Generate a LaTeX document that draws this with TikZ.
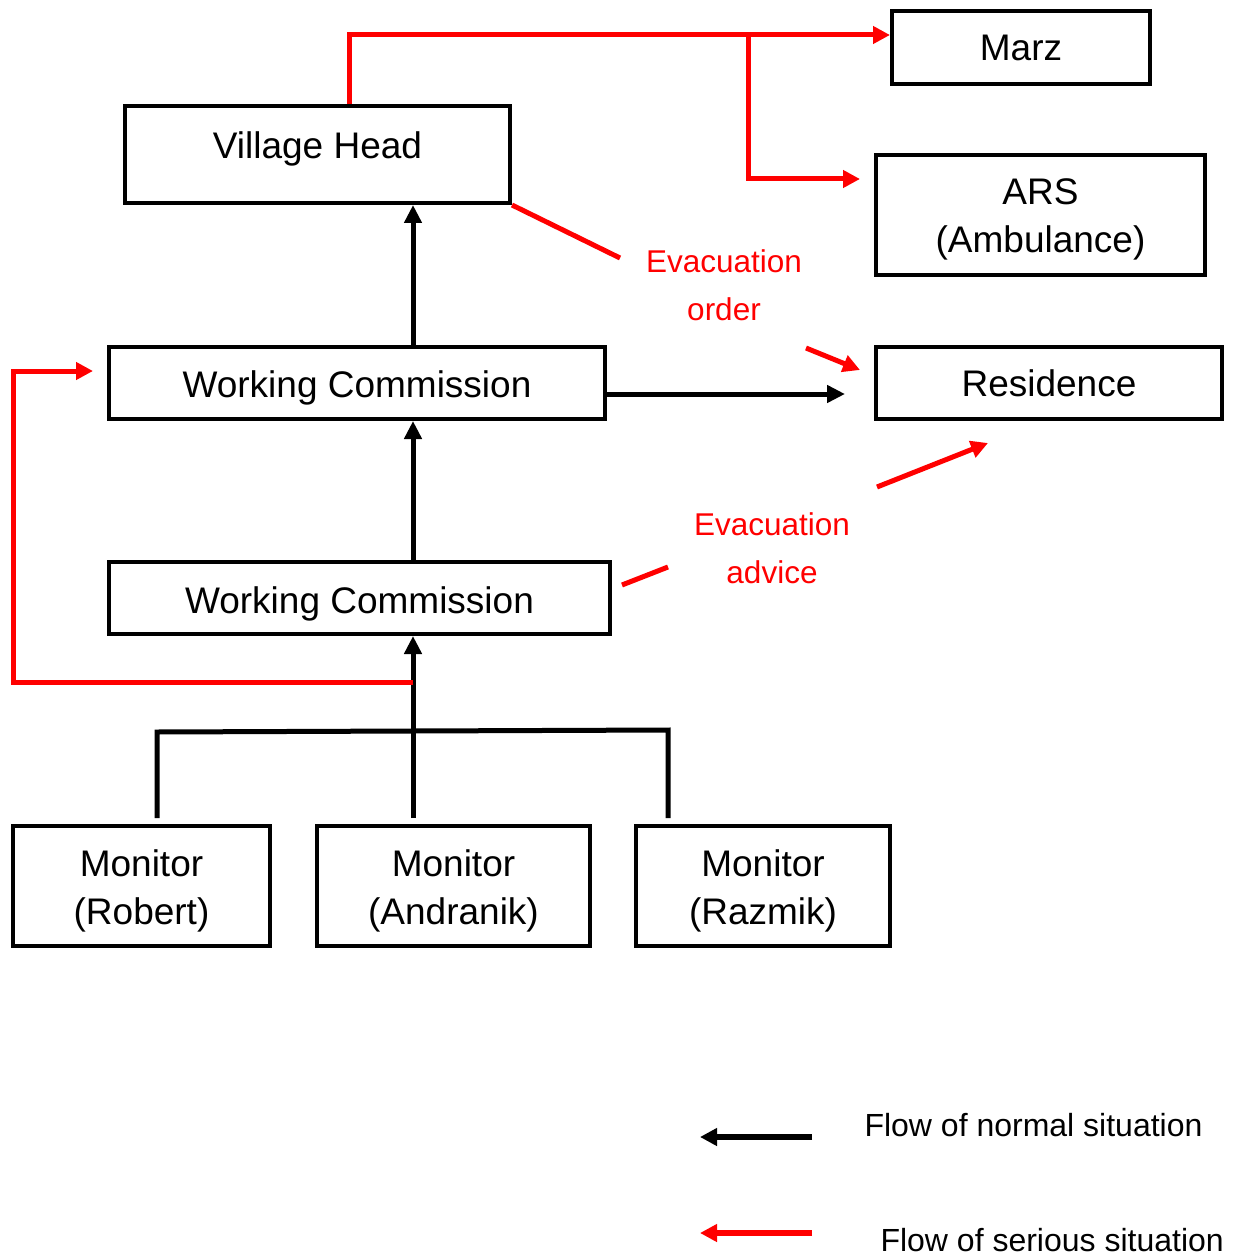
\documentclass[tikz,border=0pt]{standalone}
\usepackage{fontspec}
\setmainfont{Liberation Sans}
\usetikzlibrary{arrows.meta}
\newcommand{\dnshift}[2]{\raisebox{-#1}[\height][\depth]{#2}}
\begin{document}
\begin{tikzpicture}[x=1pt,y=-1pt,
  box/.style={draw=black, line width=4pt, rectangle, inner sep=0pt, align=center, font=\fontsize{37}{48}\selectfont},
  blkline/.style={draw=black, line width=5pt},
  blkarrow/.style={blkline, -{Triangle[length=18pt,width=17pt]}},
  redline/.style={draw=red, line width=5pt},
  redarrow/.style={redline, -{Triangle[length=17pt,width=17pt]}},
  lbl/.style={text=red, align=center, font=\fontsize{31.5}{48}\selectfont},
  legtext/.style={anchor=base west, font=\fontsize{32}{38}\selectfont}]
\useasboundingbox (0,0) rectangle (1234,1257);

% boxes
\node[box, minimum width=258pt, minimum height=73pt] (marz) at (1021,47.5) {Marz};
\node[box, minimum width=385pt, minimum height=97pt] (vh) at (317.5,154.5) {\dnshift{-6pt}{Village Head}};
\node[box, minimum width=329pt, minimum height=120pt] (ars) at (1040.5,215) {\dnshift{4.5pt}{ARS}\\\dnshift{4.5pt}{(Ambulance)}};
\node[box, minimum width=346pt, minimum height=72pt] (res) at (1049,383) {Residence};
\node[box, minimum width=496pt, minimum height=72pt] (wc1) at (357,383) {\dnshift{4.5pt}{Working Commission}};
\node[box, minimum width=501pt, minimum height=72pt] (wc2) at (359.5,598) {\dnshift{5.5pt}{Working Commission}};
\node[box, minimum width=257pt, minimum height=120pt] (rob) at (141.5,886) {\dnshift{4.5pt}{Monitor}\\\dnshift{4.5pt}{(Robert)}};
\node[box, minimum width=273pt, minimum height=120pt] (and) at (453.5,886) {\dnshift{4.5pt}{Monitor}\\\dnshift{4.5pt}{(Andranik)}};
\node[box, minimum width=254pt, minimum height=120pt] (raz) at (763,886) {\dnshift{4.5pt}{Monitor}\\\dnshift{4.5pt}{(Razmik)}};

% labels
\node[lbl] (eolbl) at (724,285) {Evacuation\\order};
\node[lbl] (ealbl) at (772,548) {Evacuation\\advice};

% helper coordinates
\coordinate (spine) at (413,0);
\coordinate (bl) at (157,732);
\coordinate (br) at (668,730);
\coordinate (toprow) at (349,35);
\coordinate (branch) at (748,35);
\coordinate (arsrow) at (860,179);
\coordinate (resrow) at (845,394);
\coordinate (eo1) at (620,258);
\coordinate (eo2) at (806,348);
\coordinate (eo3) at (860,370);
\coordinate (ea0) at (622,585);
\coordinate (ea1) at (668,567);
\coordinate (ea2) at (877,487);
\coordinate (ea3) at (988,443);
\coordinate (lp0) at (413,682);
\coordinate (lp1) at (13,682);
\coordinate (lp2) at (13,371);
\coordinate (lp3) at (93,371);

% black normal flow
\draw[blkarrow] (wc1.north -| spine) -- (vh.south -| spine);
\draw[blkarrow] (wc2.north -| spine) -- (wc1.south -| spine);
\draw[blkarrow, shorten <=6pt] (and.north -| spine) -- (wc2.south -| spine);
\draw[blkline, line join=miter] ([yshift=6pt]rob.north -| bl) -- (bl) -- (br) -- ([yshift=6pt]raz.north -| br);
\draw[blkarrow] (wc1.east |- resrow) -- (resrow);

% red serious flow
\draw[redarrow, line join=miter] (vh.north -| toprow) -- (toprow) -- (marz.west |- toprow);
\draw[redarrow, line join=miter] (branch) |- (arsrow);
\draw[redline] (vh.south east) -- (eo1);
\draw[redarrow] (eo2) -- (eo3);
\draw[redline] (ea0) -- (ea1);
\draw[redarrow] (ea2) -- (ea3);
\draw[redarrow, line join=miter] (lp0) -- (lp1) -- (lp2) -- (lp3);

% legend
\coordinate (l1s) at (812,1137);
\coordinate (l1e) at (700,1137);
\coordinate (l2s) at (812,1233);
\coordinate (l2e) at (700,1233);
\draw[blkline, line width=6pt, -{Triangle[length=17pt,width=17pt]}] (l1s) -- (l1e);
\draw[redline, line width=6pt, -{Triangle[length=17pt,width=17pt]}] (l2s) -- (l2e);
\node[legtext] (leg1) at (861,1136) {Flow of normal situation};
\node[legtext] (leg2) at (877,1251) {Flow of serious situation};
\end{tikzpicture}
\end{document}
